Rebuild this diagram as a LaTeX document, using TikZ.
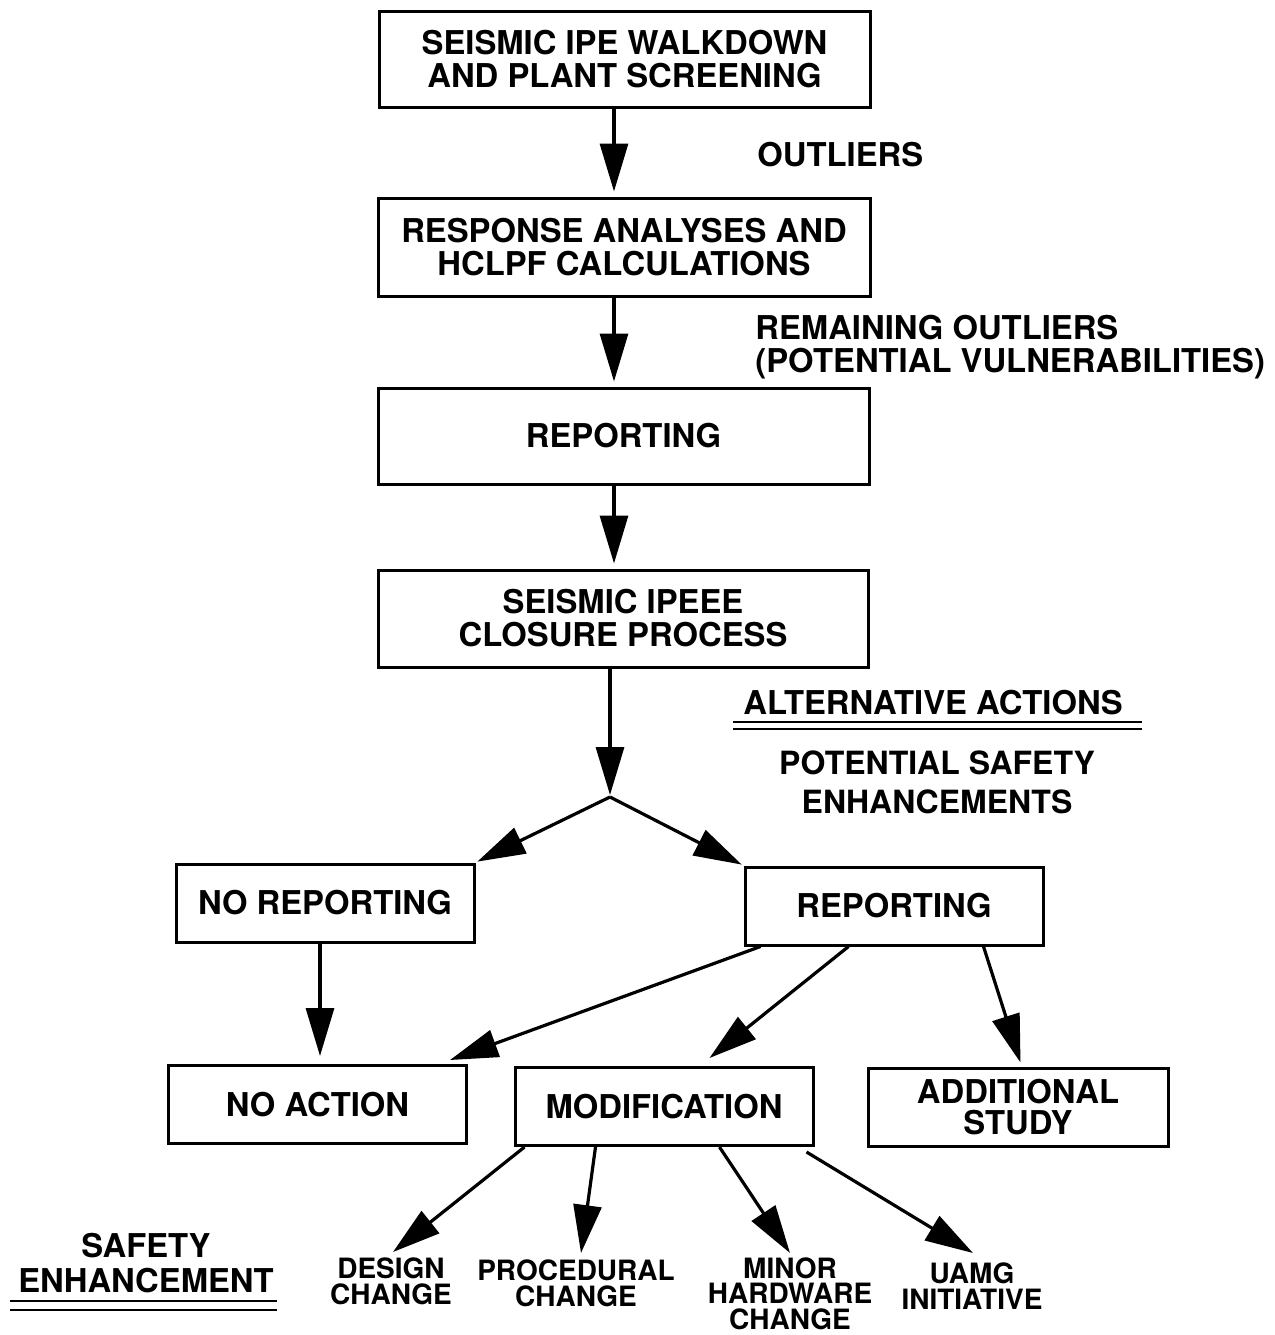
\documentclass[tikz,border=0pt]{standalone}
\usepackage{fontspec}
\setmainfont{TeX Gyre Heros}
\usetikzlibrary{arrows.meta,calc}
\newcommand\bigfont{\fontsize{16.4}{16.5}\selectfont\bfseries}
\newcommand\smallfont{\fontsize{14}{13.2}\selectfont\bfseries}
\begin{document}
\begin{tikzpicture}[x=0.5pt,y=-0.5pt,
  box/.style={draw, line width=1.5pt, inner sep=0pt, align=center, font=\bigfont},
  sbox/.style={box, minimum width=149pt, minimum height=39pt},
  lab/.style={inner sep=0pt, align=center, font=\smallfont, anchor=north},
  txt/.style={inner sep=0pt, font=\bigfont},
  arr/.style={line width=1.6pt, -{Triangle[length=24pt,width=14pt]}},
  ul/.style={line width=1.4pt}]
\useasboundingbox (0,0) rectangle (1275,1335);
\fill[white] (0,0) rectangle (1275,1335);

% main boxes
\node[box, minimum width=245.5pt, minimum height=48pt] (b1) at (624.5,59) {SEISMIC IPE WALKDOWN\\AND PLANT SCREENING};
\node[box, minimum width=246pt, minimum height=49pt] (b2) at (624,247) {RESPONSE ANALYSES AND\\HCLPF CALCULATIONS};
\node[box, minimum width=245.5pt, minimum height=48pt] (b3) at (623.5,436) {REPORTING};
\node[box, minimum width=245pt, minimum height=48.5pt] (b4) at (623,618.5) {SEISMIC IPEEE\\CLOSURE PROCESS};

\node[sbox] (norep) at (325,903) {NO REPORTING};
\node[sbox] (rep) at (894,906) {REPORTING};
\node[sbox] (noact) at (317.5,1104.5) {NO ACTION};
\node[sbox] (mod) at (664,1106.5) {MODIFICATION};
\node[sbox, minimum width=150pt, font=\fontsize{16.4}{15.2}\selectfont\bfseries] (add) at (1018,1107) {ADDITIONAL\\STUDY};

\coordinate (apex) at (610,797);

% bottom labels
\node[lab] (design) at (391,1257) {DESIGN\\CHANGE};
\node[lab] (proc) at (576,1259) {PROCEDURAL\\CHANGE};
\node[lab, font=\fontsize{14}{12.8}\selectfont\bfseries] (minor) at (790,1257) {MINOR\\HARDWARE\\CHANGE};
\node[lab] (uamg) at (972,1262) {UAMG\\INITIATIVE};

% side texts
\node[txt, anchor=base west] (outl) at (757,166) {OUTLIERS};
\node[txt, anchor=north west, align=left] (rem) at (755,315) {REMAINING OUTLIERS\\(POTENTIAL VULNERABILITIES)};
\node[txt, anchor=base] (alt) at (933,714) {ALTERNATIVE ACTIONS};
\node[txt, anchor=north, align=center, font=\fontsize{16}{19.5}\selectfont\bfseries] (pse) at (937,750) {POTENTIAL SAFETY\\ENHANCEMENTS};
\node[txt, anchor=north, align=center, font=\fontsize{16.4}{17.5}\selectfont\bfseries] (se) at (146,1233) {SAFETY\\ENHANCEMENT};

% double underlines
\draw[ul] (733,722) -- (1142,722);
\draw[ul] (733,729) -- (1142,729);
\draw[ul] (10,1301) -- (277,1301);
\draw[ul] (10,1310) -- (277,1310);

% arrows
\draw[arr, shorten >=2.5pt] (b1.south -| 614,0) -- (b2.north -| 614,0);
\draw[arr, shorten >=2.5pt] (b2.south -| 614,0) -- (b3.north -| 614,0);
\draw[arr, shorten >=2.5pt] (b3.south -| 614,0) -- (b4.north -| 614,0);
\draw[arr, shorten >=1pt] (b4.south -| apex) -- (apex);
\draw[arr, shorten >=1pt] (apex) -- (norep.north east);
\draw[arr, shorten >=1pt] (apex) -- (rep.north west);

\draw[arr, shorten >=4pt] (norep.south -| 320,0) -- (noact.north -| 320,0);
\draw[arr] ($(rep.south west)+(17,0)$) -- ($(noact.north east)+(-18,-4)$);
\draw[arr] ($(rep.south west)+(105,0)$) -- ($(mod.north west)+(196,-8)$);
\draw[arr] ($(rep.south west)+(240,0)$) -- ($(add.north west)+(154,-4)$);

\draw[arr] ($(mod.south west)+(11,0)$) -- ($(design.north)+(2,-5)$);
\draw[arr] ($(mod.south west)+(82,0)$) -- ($(proc.north)+(5,-6)$);
\draw[arr] ($(mod.south west)+(206,0)$) -- ($(minor.north)+(0,-4)$);
\draw[arr] ($(mod.south east)+(-8,5)$) -- ($(uamg.north)+(1,-9)$);
\end{tikzpicture}
\end{document}
